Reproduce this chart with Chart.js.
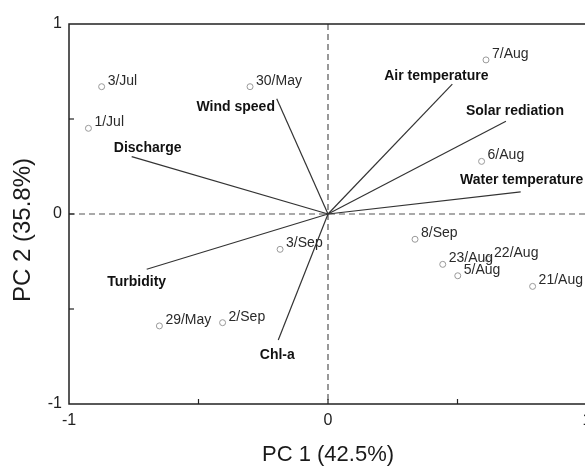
<!DOCTYPE html>
<html>
<head>
<meta charset="utf-8">
<script src="https://cdn.jsdelivr.net/npm/chart.js@4.4.1/dist/chart.umd.min.js"></script>
<style>
html, body { margin: 0; padding: 0; background: #fff; overflow: hidden; }
#wrap { width: 585px; height: 466px; overflow: hidden; }
</style>
</head>
<body>
<div id="wrap"><canvas id="pca" width="600" height="466"></canvas></div>
<script>
// ---------------- DATA ----------------
const sampleNames = ["3/Jul", "1/Jul", "30/May", "7/Aug", "6/Aug", "8/Sep", "23/Aug", "22/Aug", "5/Aug", "21/Aug", "3/Sep", "29/May", "2/Sep"];
const samplePC1 = [-0.874, -0.925, -0.301, 0.610, 0.593, 0.336, 0.443, 0.618, 0.501, 0.790, -0.185, -0.651, -0.407];
const samplePC2 = [0.670, 0.451, 0.670, 0.811, 0.277, -0.133, -0.265, -0.237, -0.325, -0.381, -0.186, -0.589, -0.572];

const varNames = ["Discharge", "Wind speed", "Air temperature", "Solar rediation", "Water temperature", "Turbidity", "Chl-a"];
const varPC1 = [-0.758, -0.198, 0.480, 0.687, 0.744, -0.700, -0.192];
const varPC2 = [0.302, 0.607, 0.684, 0.488, 0.116, -0.291, -0.663];

const tickValues = [-1, 0, 1];
const minorTicks = [-0.5, 0, 0.5];
const xTitle = "PC 1 (42.5%)";
const yTitle = "PC 2 (35.8%)";

// label placement (pixels, relative to the arrow tip)
const varLabelOffset = [[16, -8], [-41, 8], [-16, -8], [9, -10], [1, -12], [-10, 13], [-1, 15]];

const FONT = "'Liberation Sans', Arial, sans-serif";

// ---------------- DECOR PLUGIN ----------------
const biplotDecor = {
    id: "biplotDecor",
    beforeDatasetsDraw(chart) {
        const { ctx, chartArea: a, scales: { x, y } } = chart;
        const line = (x1, y1, x2, y2) => { ctx.beginPath(); ctx.moveTo(x1, y1); ctx.lineTo(x2, y2); ctx.stroke(); };
        ctx.save();
        const x0 = x.getPixelForValue(0), y0 = y.getPixelForValue(0);
        ctx.strokeStyle = "#555";
        ctx.lineWidth = 1.2;
        ctx.setLineDash([6, 4]);
        line(x0, a.top, x0, a.bottom);
        line(a.left, y0, a.right, y0);
        ctx.setLineDash([]);
        ctx.strokeStyle = "#222";
        ctx.lineWidth = 1.5;
        ctx.strokeRect(a.left, a.top, a.right - a.left, a.bottom - a.top);
        ctx.lineWidth = 1.2;
        minorTicks.forEach(v => {
            const px = x.getPixelForValue(v);
            line(px, a.bottom, px, a.bottom - 5);
            const py = y.getPixelForValue(v);
            line(a.left, py, a.left + 5, py);
        });
        ctx.restore();
    },
    afterDatasetsDraw(chart) {
        const { ctx, scales: { x, y } } = chart;
        ctx.save();
        ctx.textBaseline = "middle";
        // sample labels
        ctx.font = "14px " + FONT;
        ctx.fillStyle = "#2a2a2a";
        ctx.textAlign = "left";
        sampleNames.forEach((n, i) => {
            ctx.fillText(n, x.getPixelForValue(samplePC1[i]) + 6, y.getPixelForValue(samplePC2[i]) - 6);
        });
        // variable labels
        ctx.font = "bold 14px " + FONT;
        ctx.fillStyle = "#111";
        ctx.textAlign = "center";
        varNames.forEach((n, i) => {
            const o = varLabelOffset[i];
            ctx.fillText(n, x.getPixelForValue(varPC1[i]) + o[0], y.getPixelForValue(varPC2[i]) + o[1]);
        });
        ctx.restore();
    },
    afterDraw(chart) {
        const { ctx, scales: { x } } = chart;
        ctx.save();
        ctx.fillStyle = "#1a1a1a";
        ctx.textAlign = "center";
        ctx.textBaseline = "middle";
        ctx.font = "22px " + FONT;
        ctx.fillText(xTitle, x.getPixelForValue(0), 455);
        ctx.translate(23, 230);
        ctx.rotate(-Math.PI / 2);
        ctx.font = "24px " + FONT;
        ctx.fillText(yTitle, 0, 0);
        ctx.restore();
    }
};

// ---------------- DATASETS ----------------
const vectorSets = varNames.map((n, i) => ({
    label: n,
    data: [{ x: 0, y: 0 }, { x: varPC1[i], y: varPC2[i] }],
    showLine: true,
    borderColor: "#333",
    borderWidth: 1.2,
    pointRadius: 0
}));

const sampleSet = {
    label: "Samples",
    data: sampleNames.map((n, i) => ({ x: samplePC1[i], y: samplePC2[i] })),
    pointStyle: "circle",
    pointRadius: 3,
    borderWidth: 1,
    borderColor: "#999",
    backgroundColor: "#fff"
};

const tickOpts = (pad) => ({
    stepSize: 0.5,
    padding: pad,
    color: "#222",
    font: { family: FONT, size: 16 },
    callback: v => tickValues.includes(v) ? String(v) : ""
});

new Chart(document.getElementById("pca"), {
    type: "scatter",
    data: { datasets: [...vectorSets, sampleSet] },
    options: {
        responsive: false,
        animation: false,
        devicePixelRatio: 1,
        layout: { padding: { top: 24, right: 13, left: 0, bottom: 0 } },
        plugins: { legend: { display: false }, tooltip: { enabled: false } },
        scales: {
            x: {
                min: -1, max: 1,
                grid: { display: false, drawTicks: false },
                border: { display: false },
                ticks: tickOpts(7),
                afterFit: s => { s.height = 62; }
            },
            y: {
                min: -1, max: 1,
                grid: { display: false, drawTicks: false },
                border: { display: false },
                ticks: tickOpts(7),
                afterFit: s => { s.width = 69; }
            }
        }
    },
    plugins: [biplotDecor]
});
</script>
</body>
</html>
